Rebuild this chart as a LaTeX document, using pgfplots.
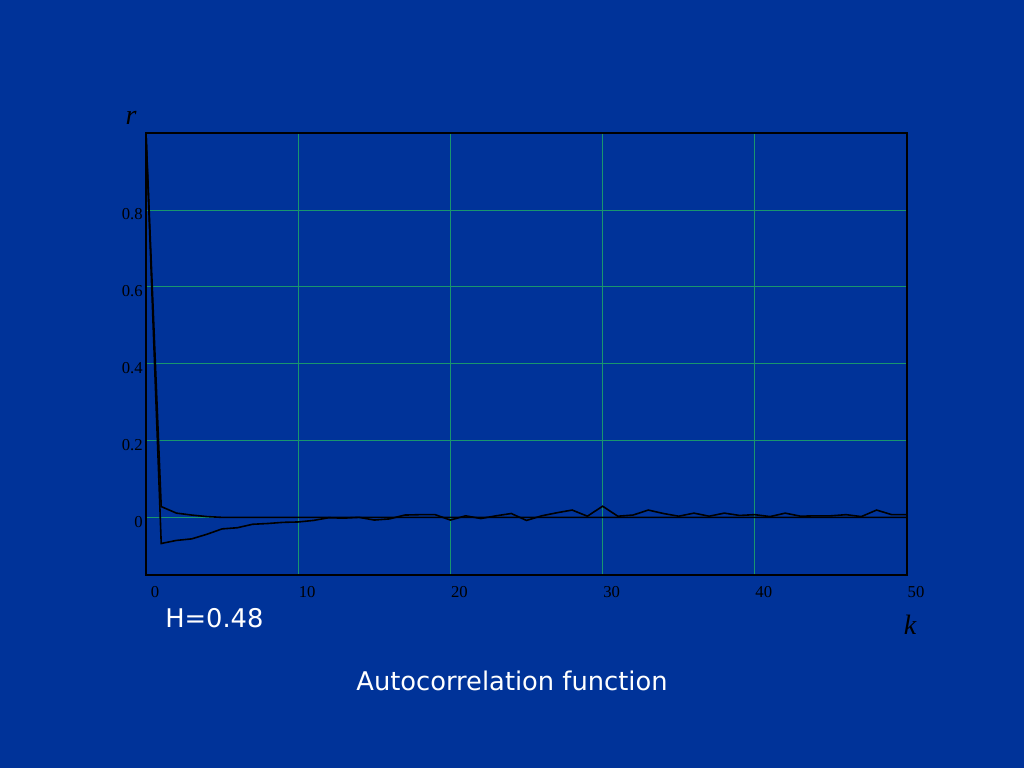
\documentclass[border=0pt]{standalone}
\usepackage{fontspec}
\setmainfont{Liberation Serif}
\newfontfamily\dejavu{DejaVu Sans}
\usepackage{pgfplots}
\pgfplotsset{compat=1.18}
\definecolor{bg}{RGB}{0,51,153}
\definecolor{gridc}{RGB}{25,150,110}
\begin{document}
\begin{tikzpicture}
\fill[bg] (0pt,0pt) rectangle (768pt,-576pt);
\begin{axis}[
  at={(109.5pt,-431.25pt)}, anchor=south west,
  scale only axis, width=570.75pt, height=331.5pt,
  xmin=0, xmax=50, ymin=-0.15, ymax=1,
  xtick={0,10,20,30,40,50},
  ytick={0,0.2,0.4,0.6,0.8},
  grid=major,
  major grid style={gridc, line width=0.5pt},
  major tick length=0pt,
  tick style={draw=none},
  axis line style={black, line width=1.5pt},
  /pgf/number format/assume math mode=true,
  /pgf/number format/fixed,
  ticklabel style={font=\fontsize{12.5}{14}\selectfont, text=black},
  xticklabel style={anchor=center, inner sep=0pt, yshift=-12.75pt, xshift=6.75pt},
  yticklabel style={anchor=east, inner sep=0pt, xshift=-2.25pt, yshift=-3.5pt},
  axis background/.style={fill=bg},
]
\addplot[black, line width=1.2pt] coordinates {
(0,1) (1,0.028) (2,0.011) (3,0.006) (4,0.002) (5,0) (50,0)
};
\addplot[black, line width=1.2pt] coordinates {
(0,1) (1,-0.068) (2,-0.060) (3,-0.056) (4,-0.044) (5,-0.030) (6,-0.027)
(7,-0.018) (8,-0.016) (9,-0.013) (10,-0.012) (11,-0.008) (12,-0.001)
(13,-0.002) (14,0.000) (15,-0.007) (16,-0.004) (17,0.006) (18,0.007)
(19,0.007) (20,-0.007) (21,0.004) (22,-0.003) (23,0.004) (24,0.010)
(25,-0.008) (26,0.004) (27,0.012) (28,0.019) (29,0.003) (30,0.029)
(31,0.003) (32,0.006) (33,0.019) (34,0.010) (35,0.003) (36,0.011)
(37,0.003) (38,0.011) (39,0.005) (40,0.007) (41,0.002) (42,0.011)
(43,0.003) (44,0.004) (45,0.004) (46,0.007) (47,0.002) (48,0.019)
(49,0.007) (50,0.007)
};
\end{axis}
\node[font=\fontsize{21}{24}\selectfont\itshape, text=black] at (98.25pt,-88.5pt) {r};
\node[font=\fontsize{21}{24}\selectfont\itshape, text=black] at (682.5pt,-468.75pt) {k};
\node[font=\dejavu\fontsize{19.3}{22}\selectfont, text=white, anchor=west, inner sep=0pt] at (123.75pt,-463.5pt) {H=0.48};
\node[font=\dejavu\fontsize{19.3}{22}\selectfont, text=white, inner sep=0pt] at (384pt,-510.75pt) {Autocorrelation function};
\end{tikzpicture}
\end{document}
